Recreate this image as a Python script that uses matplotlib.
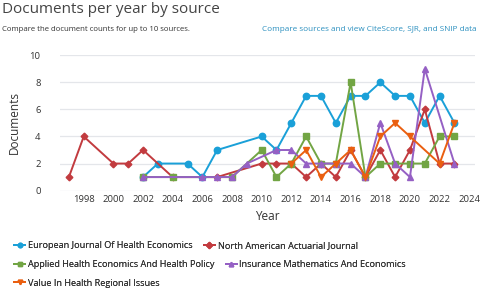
import matplotlib.pyplot as plt
from matplotlib.lines import Line2D

plt.rcParams['font.family'] = ['Open Sans', 'DejaVu Sans']

# documents per year, per source
ejhe_years = [2002, 2003, 2005, 2006, 2007, 2010, 2011, 2012, 2013, 2014, 2015, 2016, 2017, 2018, 2019, 2020, 2021, 2022, 2023]
ejhe_docs = [1, 2, 2, 1, 3, 4, 3, 5, 7, 7, 5, 7, 7, 8, 7, 7, 5, 7, 5]

naaj_years = [1997, 1998, 2000, 2001, 2002, 2004, 2007, 2010, 2011, 2012, 2013, 2014, 2015, 2016, 2017, 2018, 2019, 2020, 2021, 2022, 2023]
naaj_docs = [1, 4, 2, 2, 3, 1, 1, 2, 2, 2, 1, 2, 1, 3, 1, 3, 1, 3, 6, 2, 2]

aheh_years = [2002, 2004, 2008, 2010, 2011, 2012, 2013, 2014, 2015, 2016, 2017, 2018, 2019, 2020, 2021, 2022, 2023]
aheh_docs = [1, 1, 1, 3, 1, 2, 4, 2, 2, 8, 1, 2, 2, 2, 2, 4, 4]

ime_years = [2002, 2006, 2007, 2008, 2009, 2011, 2012, 2013, 2014, 2015, 2016, 2017, 2018, 2019, 2020, 2021, 2023]
ime_docs = [1, 1, 1, 1, 2, 3, 3, 2, 2, 2, 2, 1, 5, 2, 1, 9, 2]

vhri_years = [2012, 2013, 2014, 2015, 2016, 2017, 2018, 2019, 2020, 2022, 2023]
vhri_docs = [2, 3, 1, 2, 3, 1, 4, 5, 4, 2, 5]

series = [
    ("European Journal Of Health Economics", ejhe_years, ejhe_docs, '#1aa0d8', 'o'),
    ("North American Actuarial Journal", naaj_years, naaj_docs, '#c23b3f', 'D'),
    ("Applied Health Economics And Health Policy", aheh_years, aheh_docs, '#72a544', 's'),
    ("Insurance Mathematics And Economics", ime_years, ime_docs, '#9560c4', '^'),
    ("Value In Health Regional Issues", vhri_years, vhri_docs, '#ea5f10', 'v'),
]

fig = plt.figure(figsize=(4.8, 2.91), dpi=100)
ax = fig.add_axes([0.125, 0.345, 0.865, 0.465])

for name, yrs, docs, col, mk in series:
    ms = 4.6 if mk != 'D' else 3.4
    ax.plot(yrs, docs, color=col, marker=mk, ms=ms, lw=1.4, label=name)

ax.set_xlim(1996.4, 2024.4)
ax.set_ylim(0, 10)
ax.set_yticks(range(0, 11, 2))
ax.set_xticks(range(1998, 2025, 2))
ax.grid(axis='y', color='#e4e6ea', lw=0.9)
ax.set_axisbelow(True)
for s in ax.spines.values():
    s.set_visible(False)
ax.tick_params(length=0, labelsize=6.8, colors='#333333')
ax.tick_params(axis='y', pad=14)
ax.set_ylabel("Documents", fontsize=8.5, color='#333333', labelpad=6)
ax.set_xlabel("Year", fontsize=8.5, color='#333333', labelpad=4)

fig.text(0.005, 0.955, "Documents per year by source", fontsize=11, color='#444444')
fig.text(0.005, 0.895, "Compare the document counts for up to 10 sources.", fontsize=5.6, color='#333333')
fig.text(0.993, 0.895, "Compare sources and view CiteScore, SJR, and SNIP data", fontsize=5.85,
         color='#2a8fbf', ha='right')

handles = [Line2D([0], [0], color=c, marker=m, ms=3.2, lw=1.4) for _, _, _, c, m in series]
labels = [s[0] for s in series]
rows = [[0, 1], [2, 3], [4]]
ys = [0.155, 0.09, 0.027]
for row, y in zip(rows, ys):
    leg = fig.legend([handles[i] for i in row], [labels[i] for i in row], loc='center left',
                     bbox_to_anchor=(0.03, y), ncol=len(row), frameon=False, fontsize=6.6,
                     handlelength=1.2, handletextpad=0.3, columnspacing=1.2, borderpad=0, borderaxespad=0)
    for t in leg.get_texts():
        t.set_color('#333333')
    fig.add_artist(leg)

fig.savefig("out.png", dpi=100, facecolor='white')
